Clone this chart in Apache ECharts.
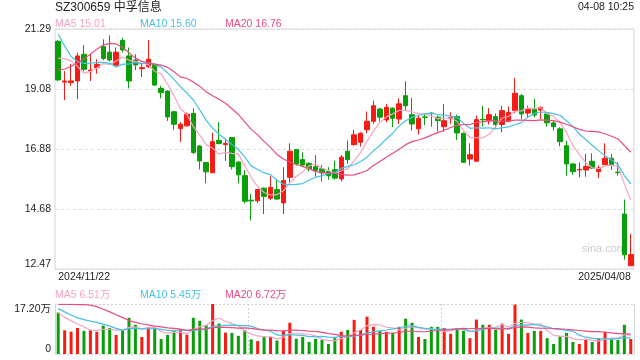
<!DOCTYPE html>
<html><head><meta charset="utf-8">
<script src="https://cdn.jsdelivr.net/npm/echarts@6/dist/echarts.min.js"></script>
<style>html,body{margin:0;padding:0;background:#fff}#c{width:640px;height:360px}</style>
</head><body><div id="c"></div>
<script>
const stockTitle = 'SZ300659 中孚信息';
const timeStamp = '04-08 10:25';
const dates = ['2024/11/22','2024/11/25','2024/11/26','2024/11/27','2024/11/28','2024/11/29',
'2024/12/02','2024/12/03','2024/12/04','2024/12/05','2024/12/06','2024/12/09','2024/12/10','2024/12/11','2024/12/12','2024/12/13','2024/12/16','2024/12/17','2024/12/18','2024/12/19','2024/12/20','2024/12/23','2024/12/24','2024/12/25','2024/12/26','2024/12/27','2024/12/30','2024/12/31',
'2025/01/02','2025/01/03','2025/01/06','2025/01/07','2025/01/08','2025/01/09','2025/01/10','2025/01/13','2025/01/14','2025/01/15','2025/01/16','2025/01/17','2025/01/20','2025/01/21','2025/01/22','2025/01/23','2025/01/24','2025/01/27',
'2025/02/05','2025/02/06','2025/02/07','2025/02/10','2025/02/11','2025/02/12','2025/02/13','2025/02/14','2025/02/17','2025/02/18','2025/02/19','2025/02/20','2025/02/21','2025/02/24','2025/02/25','2025/02/26','2025/02/27','2025/02/28',
'2025/03/03','2025/03/04','2025/03/05','2025/03/06','2025/03/07','2025/03/10','2025/03/11','2025/03/12','2025/03/13','2025/03/14','2025/03/17','2025/03/18','2025/03/19','2025/03/20','2025/03/21','2025/03/24','2025/03/25','2025/03/26','2025/03/27','2025/03/28','2025/03/31',
'2025/04/01','2025/04/02','2025/04/03','2025/04/07','2025/04/08'];

const open = [20.84,19.34,19.32,19.38,20.36,19.75,19.87,20.64,20.44,19.96,
20.87,20.30,20.15,19.83,19.91,19.99,19.11,19.01,18.25,17.63,
17.73,18.19,16.99,16.38,16.01,17.20,17.04,17.30,16.40,15.90,
15.00,14.98,15.44,15.07,15.39,14.90,15.84,16.86,16.49,16.35,
16.23,16.15,16.06,16.12,15.78,16.80,17.04,17.13,17.59,17.90,
18.35,17.95,18.38,17.98,18.84,18.14,17.62,18.06,18.20,18.05,
17.70,18.01,18.07,17.46,16.51,16.43,17.97,17.92,18.07,17.78,
17.90,18.29,18.84,18.20,18.33,18.31,18.17,17.84,17.62,17.00,
16.33,16.11,16.11,16.43,16.05,16.30,16.54,16.03,14.49,12.59];
const close = [19.42,19.38,19.38,20.30,19.81,19.78,19.99,20.21,20.15,20.44,
20.52,19.38,19.97,19.87,20.18,19.23,18.95,18.06,17.79,17.79,
18.16,16.75,16.44,16.04,17.15,17.08,17.09,16.23,15.93,14.96,
14.97,15.39,15.14,15.47,15.04,15.72,16.80,16.33,16.29,16.15,
16.09,16.00,15.90,15.81,16.58,16.49,17.40,17.46,17.90,18.47,
18.05,18.41,18.01,18.54,18.47,17.80,18.01,18.04,18.18,17.92,
17.92,18.03,17.47,16.39,16.67,17.96,17.95,18.14,17.78,18.29,
18.22,18.93,18.17,18.35,18.13,18.41,17.84,17.70,17.15,16.33,
16.05,16.13,16.24,16.18,16.18,16.54,16.30,16.01,12.99,13.00];
const low = [19.37,18.68,19.20,18.71,19.74,19.38,19.65,20.14,20.10,19.92,
20.43,19.11,19.78,19.53,19.85,19.20,18.74,17.91,17.58,17.14,
17.70,16.69,16.13,15.62,15.99,17.05,16.44,16.13,15.62,14.88,
14.25,14.90,14.49,15.01,15.02,14.49,15.66,16.27,16.21,16.06,
15.86,15.68,15.75,15.75,15.69,16.33,17.00,16.97,17.46,17.80,
17.89,17.86,17.68,17.80,18.31,17.56,17.41,17.76,17.70,17.53,
17.52,17.80,17.21,16.37,16.27,16.43,17.71,17.78,17.64,17.49,
17.86,18.19,17.98,18.02,18.05,17.98,17.70,17.56,16.98,15.90,
15.93,15.84,15.86,16.15,15.81,16.29,16.11,15.90,12.81,12.59];
const high = [20.88,19.74,20.00,20.42,20.70,20.36,20.18,20.91,21.06,20.61,
20.97,20.61,20.36,20.05,20.89,20.02,19.20,19.04,18.28,17.87,
18.22,18.38,17.02,16.40,17.48,17.87,17.26,17.32,16.43,16.11,
15.23,15.41,15.47,15.88,15.78,16.21,17.09,16.88,16.76,16.39,
16.66,16.29,16.21,16.45,16.66,17.19,17.59,17.49,18.26,18.66,
18.39,18.54,18.41,18.74,19.37,18.76,18.14,18.17,18.23,18.11,
18.53,18.23,18.14,17.48,17.09,18.11,18.47,18.38,18.19,18.47,
18.44,19.49,18.90,18.47,18.72,18.45,18.23,17.92,17.68,17.19,
16.35,16.39,16.70,16.72,16.27,17.09,16.70,16.39,15.02,13.76];

const ma5 = [20.22,20.20,20.12,19.92,19.66,19.73,19.85,20.02,19.99,20.11,
20.26,20.14,20.09,20.04,19.98,19.73,19.64,19.26,18.84,18.36,
18.15,17.71,17.39,17.04,16.91,16.69,16.76,16.72,16.70,16.26,
15.84,15.50,15.28,15.19,15.20,15.35,15.63,15.87,16.04,16.26,
16.33,16.17,16.09,15.99,16.08,16.16,16.44,16.75,17.17,17.54,
17.86,18.06,18.17,18.30,18.30,18.25,18.17,18.17,18.10,17.99,
18.01,18.02,17.90,17.55,17.30,17.30,17.29,17.42,17.70,18.02,
18.08,18.27,18.28,18.39,18.36,18.40,18.18,18.09,17.85,17.49,
17.01,16.67,16.38,16.19,16.16,16.25,16.29,16.24,15.60,15.01];
const ma10 = [21.10,20.66,20.28,20.10,20.03,20.03,20.06,20.06,20.03,19.89,
20.00,20.00,20.06,20.01,20.05,19.99,19.89,19.68,19.44,19.17,
18.94,18.68,18.32,17.94,17.64,17.42,17.24,17.05,16.87,16.58,
16.26,16.13,16.00,15.94,15.73,15.59,15.57,15.58,15.61,15.73,
15.84,15.90,15.98,16.01,16.17,16.24,16.30,16.42,16.58,16.81,
17.01,17.25,17.46,17.73,17.92,18.05,18.11,18.17,18.20,18.14,
18.13,18.09,18.04,17.82,17.64,17.66,17.65,17.66,17.62,17.66,
17.69,17.78,17.85,18.05,18.19,18.24,18.23,18.18,18.12,17.92,
17.71,17.43,17.23,17.02,16.82,16.63,16.48,16.31,15.90,15.60];
const ma20 = [19.78,19.82,19.91,20.05,20.20,20.36,20.55,20.70,20.76,20.74,
20.62,20.42,20.22,20.10,20.03,20.00,19.96,19.88,19.72,19.53,
19.47,19.34,19.19,18.98,18.84,18.71,18.56,18.36,18.15,17.88,
17.60,17.40,17.16,16.94,16.68,16.51,16.40,16.31,16.24,16.16,
16.05,16.02,15.99,15.98,15.95,15.92,15.93,16.00,16.09,16.27,
16.42,16.58,16.72,16.87,17.04,17.15,17.21,17.29,17.39,17.48,
17.57,17.67,17.75,17.78,17.78,17.86,17.88,17.92,17.91,17.90,
17.91,17.94,17.94,17.93,17.92,17.95,17.94,17.92,17.87,17.79,
17.70,17.60,17.54,17.53,17.51,17.44,17.35,17.25,17.01,16.76];

const vol = [14.25,8.15,7.65,8.95,7.95,8.25,7.65,9.75,8.95,6.55,
8.25,12.45,10.05,5.85,9.05,8.75,5.15,6.55,8.15,8.45,
6.65,12.45,11.45,9.95,17.20,10.45,7.35,7.25,6.25,8.25,
5.05,4.45,6.05,5.85,4.65,7.95,10.75,5.25,5.85,4.15,
5.15,4.85,3.45,5.45,7.65,8.25,11.75,8.25,12.85,9.35,
7.95,7.65,7.25,9.35,12.15,10.75,5.85,5.15,9.35,9.35,
8.95,6.95,8.95,7.95,5.45,11.85,10.05,10.05,8.35,10.45,
6.95,17.00,11.85,7.25,7.95,7.95,5.45,3.45,6.05,7.25,
4.15,3.45,4.85,4.15,5.45,7.65,5.05,4.85,10.05,5.15];
const volMa5 = [14.2,12.6,11.4,10.3,9.39,8.19,8.09,8.51,8.51,8.23,
8.23,9.19,9.25,8.63,9.13,9.23,7.77,7.07,7.53,7.41,
6.99,8.45,9.43,9.79,11.54,12.30,11.28,10.44,9.70,7.91,
6.83,6.25,6.01,5.93,5.21,5.79,7.05,6.89,6.89,6.79,
6.23,5.05,4.69,4.61,5.31,5.93,7.31,8.27,9.75,10.09,
10.03,9.21,9.01,8.31,8.87,9.43,9.07,8.65,8.65,8.09,
7.73,7.95,8.71,8.43,7.65,8.23,8.85,9.07,9.15,10.15,
9.17,10.56,10.92,10.70,10.20,10.40,8.09,6.41,6.17,6.03,
5.27,4.87,5.15,4.77,4.41,5.11,5.43,5.43,6.61,6.51];
const volMa10 = [15.6,14.5,13.4,12.4,11.8,11.3,10.9,10.3,9.6,8.81,
8.21,8.64,8.88,8.57,8.68,8.73,8.48,8.16,8.08,8.27,
8.11,8.11,8.25,8.66,9.48,9.65,9.87,9.94,9.75,9.73,
9.57,8.77,8.23,7.82,6.56,6.31,6.65,6.45,6.41,6.00,
6.01,6.05,5.79,5.75,6.05,6.08,6.18,6.48,7.18,7.70,
7.98,8.26,8.64,9.03,9.48,9.73,9.14,8.83,8.48,8.48,
8.58,8.51,8.68,8.54,7.87,7.98,8.40,8.89,8.79,8.90,
8.70,9.71,10.00,9.93,10.18,9.79,9.33,8.67,8.44,8.12,
7.84,6.48,5.78,5.47,5.22,5.19,5.15,5.29,5.69,5.45];
const volMa20 = [17.1,17.1,17.1,17.0,17.0,16.8,16.3,15.4,14.5,13.5,
12.5,11.5,10.9,10.4,10.0,9.6,9.3,9.0,8.8,8.54,
8.16,8.38,8.57,8.62,9.08,9.19,9.17,9.05,8.91,9.00,
8.84,8.44,8.24,8.24,8.02,7.98,8.26,8.19,8.08,7.86,
7.79,7.41,7.01,6.78,6.31,6.20,6.42,6.47,6.80,6.85,
7.00,7.16,7.22,7.39,7.77,7.91,7.66,7.66,7.83,8.09,
8.28,8.39,8.66,8.79,8.68,8.86,8.77,8.86,8.64,8.69,
8.64,9.11,9.34,9.23,9.02,8.88,8.86,8.78,8.61,8.51,
8.27,8.09,7.89,7.70,7.70,7.49,7.24,6.98,7.06,6.72];

const maNames = ['MA5','MA10','MA20'];
const priceMaLast = ['15.01','15.60','16.76'];
const volMaLast = ['6.51万','5.45万','6.72万'];
const priceTicks = ['12.47','14.68','16.88','19.08','21.29'];
const priceMin = 12.47, priceMax = 21.29;
const volTicks = ['0','17.20万'];
const volMax = 17.20;
const vSplitIdx = [30, 60];
const watermark = 'sina.com';

const UP = '#f41c14', DOWN = '#0a9f0a';
const MA_COLORS = ['#f7a4c0', '#45c1e3', '#e84d7f'];
const FONT = '"Liberation Sans", Arial, "Noto Sans CJK SC", sans-serif';
const step = (priceMax - priceMin) / 4;

const chart = echarts.init(document.getElementById('c'), null, {renderer: 'canvas'});
const candles = dates.map((d, i) => [open[i], close[i], low[i], high[i]]);
const volData = vol.map((v, i) => ({value: v, itemStyle: {color: close[i] >= open[i] ? UP : DOWN}}));

function maLine(data, color, xi, yi) {
  return {type: 'line', data: data, xAxisIndex: xi, yAxisIndex: yi, symbol: 'none', showSymbol: false,
    smooth: false, z: 5, silent: true, lineStyle: {width: 1.2, color: color}};
}
function legendTexts(y, values) {
  const xs = [55, 140, 225];
  return maNames.map((n, k) => ({type: 'text', x: xs[k], y: y, silent: true,
    style: {text: n + ' ' + values[k], fill: MA_COLORS[k], font: '10.5px ' + FONT, verticalAlign: 'middle'}}));
}

const option = {
  animation: false,
  backgroundColor: '#fff',
  textStyle: {fontFamily: FONT},
  grid: [
    {left: 55, right: 6, top: 29, height: 240, show: true, borderColor: '#d4d4d4', borderWidth: 1},
    {left: 55, right: 6, top: 304, height: 50}
  ],
  xAxis: [
    {type: 'category', gridIndex: 0, data: dates, boundaryGap: true,
      axisLine: {show: false}, axisTick: {show: false}, splitLine: {show: false},
      axisLabel: {show: true, color: '#222', fontSize: 10.5, margin: 3,
        interval: (i) => i === 0 || i === dates.length - 1,
        alignMinLabel: 'left', alignMaxLabel: 'right'}},
    {type: 'category', gridIndex: 1, data: dates, boundaryGap: true,
      axisLine: {show: false}, axisTick: {show: false}, axisLabel: {show: false},
      splitLine: {show: true, interval: (i) => vSplitIdx.indexOf(i) >= 0,
        lineStyle: {color: '#cfcfcf', type: [2, 2], width: 1}}}
  ],
  yAxis: [
    {type: 'value', gridIndex: 0, min: priceMin, max: priceMax, interval: step, scale: true,
      axisLine: {show: false}, axisTick: {show: false},
      splitLine: {show: true, lineStyle: {color: '#dddddd', type: [3, 3], width: 1}},
      axisLabel: {color: '#222', fontSize: 10.5, margin: 4,
        verticalAlignMinLabel: 'bottom', verticalAlignMaxLabel: 'top',
        formatter: (v) => priceTicks[Math.round((v - priceMin) / step)] || ''}},
    {type: 'value', gridIndex: 1, min: 0, max: volMax, interval: volMax,
      axisLine: {show: true, lineStyle: {color: '#d4d4d4'}}, axisTick: {show: false},
      splitLine: {show: true, lineStyle: {color: '#cfcfcf', type: [2, 2], width: 1}},
      axisLabel: {color: '#222', fontSize: 10.5, margin: 4,
        verticalAlignMinLabel: 'bottom', verticalAlignMaxLabel: 'top',
        formatter: (v) => v === 0 ? volTicks[0] : volTicks[1]}},
    {type: 'value', gridIndex: 1, position: 'right', min: 0, max: volMax, interval: volMax,
      axisLine: {show: true, lineStyle: {color: '#d4d4d4'}}, axisTick: {show: false},
      axisLabel: {show: false}, splitLine: {show: false}}
  ],
  series: [
    {type: 'candlestick', data: candles, xAxisIndex: 0, yAxisIndex: 0, barWidth: 5, silent: true,
      itemStyle: {color: UP, color0: DOWN, borderColor: UP, borderColor0: DOWN, borderWidth: 1}},
    maLine(ma5, MA_COLORS[0], 0, 0),
    maLine(ma10, MA_COLORS[1], 0, 0),
    maLine(ma20, MA_COLORS[2], 0, 0),
    {type: 'bar', data: volData, xAxisIndex: 1, yAxisIndex: 1, barWidth: 3, silent: true},
    maLine(volMa5, MA_COLORS[0], 1, 1),
    maLine(volMa10, MA_COLORS[1], 1, 1),
    maLine(volMa20, MA_COLORS[2], 1, 1)
  ],
  graphic: [
    {type: 'text', x: 55, y: 8, silent: true,
      style: {text: stockTitle, fill: '#222', font: '12px ' + FONT, verticalAlign: 'middle'}},
    {type: 'text', x: 634, y: 7, silent: true,
      style: {text: timeStamp, fill: '#222', font: '10.5px ' + FONT, align: 'right', verticalAlign: 'middle'}},
    {type: 'text', x: 582, y: 249, silent: true, z: 1,
      style: {text: watermark, fill: '#cccccc', font: '11px ' + FONT, verticalAlign: 'middle'}}
  ].concat(legendTexts(24, priceMaLast)).concat(legendTexts(295, volMaLast))
};
chart.setOption(option);
</script></body></html>
